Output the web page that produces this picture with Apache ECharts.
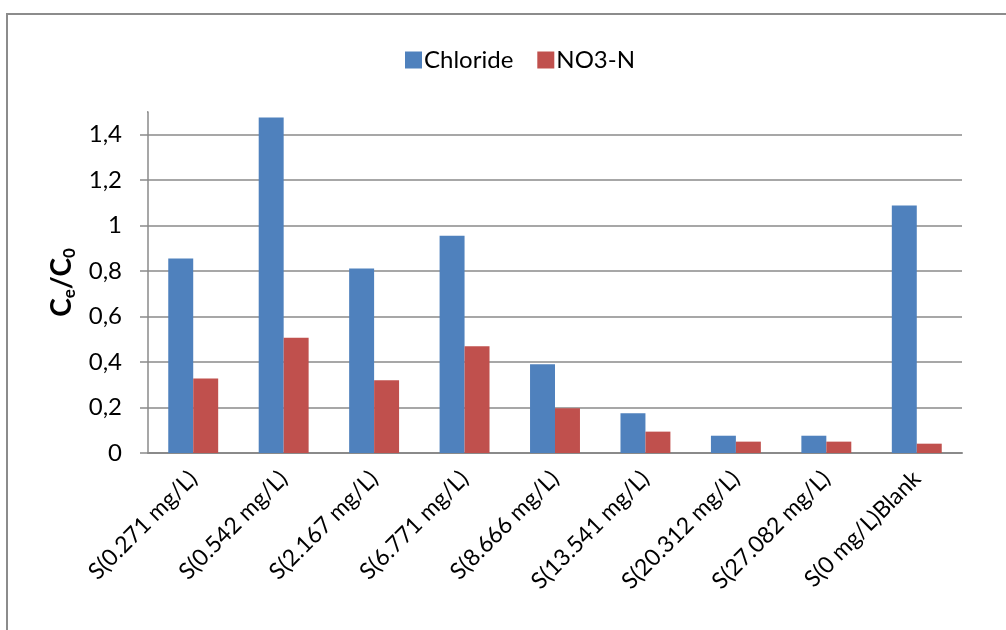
<!DOCTYPE html>
<html>
<head>
<meta charset="utf-8">
<script src="https://cdn.jsdelivr.net/npm/echarts@6/dist/echarts.min.js"></script>
<style>
  html, body { margin: 0; padding: 0; background: #fff; }
  #chart { width: 1006px; height: 630px; }
</style>
</head>
<body>
<div id="chart"></div>
<script>
// Sample categories (sorbent dose) and measured Ce/C0 ratios
const categories = [
  'S(0.271 mg/L)', 'S(0.542 mg/L)', 'S(2.167 mg/L)', 'S(6.771 mg/L)',
  'S(8.666 mg/L)', 'S(13.541 mg/L)', 'S(20.312 mg/L)', 'S(27.082 mg/L)',
  'S(0 mg/L)Blank'
];
const chloride = [0.856, 1.476, 0.812, 0.956, 0.39, 0.175, 0.076, 0.076, 1.089];
const no3n     = [0.328, 0.507, 0.320, 0.470, 0.197, 0.094, 0.050, 0.050, 0.041];
const seriesNames = ['Chloride', 'NO3-N'];

const FONT = 'Lato, "Liberation Sans", sans-serif';
const GRID_GREY = '#8a8a8a';

// Gridlines at every 0.2 step; the line at the axis top stays hidden
const gridColors = [];
for (let v = 0; v <= 1.4 + 1e-9; v += 0.2) gridColors.push(GRID_GREY);
gridColors.push('rgba(0,0,0,0)');

const chart = echarts.init(document.getElementById('chart'), null, { renderer: 'canvas' });

chart.setOption({
  animation: false,
  backgroundColor: '#ffffff',
  textStyle: { fontFamily: FONT },
  color: ['#4F81BD', '#C0504D'],
  graphic: [
    {
      // chart frame
      type: 'rect',
      z: -10,
      shape: { x: 7, y: 14, width: 1100, height: 700 },
      style: { fill: 'none', stroke: '#8c8c8c', lineWidth: 2 }
    },
    {
      // no tick mark at the open top of the value axis
      type: 'rect',
      z: 100,
      shape: { x: 128, y: 107, width: 19, height: 10 },
      style: { fill: '#ffffff' }
    }
  ],
  legend: {
    data: seriesNames,
    left: 400,
    top: 43,
    itemWidth: 17,
    itemHeight: 17,
    itemGap: 24,
    icon: 'rect',
    textStyle: { fontSize: 24, color: '#000', fontFamily: FONT, padding: [0, 0, 0, -3] }
  },
  grid: { left: 148, right: 44, top: 112, bottom: 177, containLabel: false },
  xAxis: {
    type: 'category',
    data: categories,
    axisLine: { show: true, lineStyle: { color: GRID_GREY, width: 2 } },
    axisTick: { show: false },
    axisLabel: {
      rotate: 45,
      interval: 0,
      margin: 22,
      fontSize: 23,
      color: '#000',
      fontFamily: FONT
    },
    splitLine: { show: false }
  },
  yAxis: {
    type: 'value',
    min: 0,
    max: 1.5,
    interval: 0.2,
    name: '{m|C}{s|e}{m|/C}{s|0}',
    nameLocation: 'middle',
    nameRotate: 90,
    nameGap: 69,
    nameTextStyle: {
      rich: {
        m: { fontSize: 28, fontWeight: 'bold', color: '#000', fontFamily: FONT, lineHeight: 32, verticalAlign: 'middle' },
        s: { fontSize: 17, fontWeight: 'bold', color: '#000', fontFamily: FONT, lineHeight: 16, verticalAlign: 'bottom' }
      }
    },
    axisLine: { show: true, lineStyle: { color: GRID_GREY, width: 1.5 } },
    axisTick: { show: true, length: 8, lineStyle: { color: GRID_GREY, width: 1.5 } },
    axisLabel: {
      fontSize: 24,
      color: '#000',
      margin: 26,
      fontFamily: FONT,
      formatter: function (v) {
        if (v > 1.45) return '';
        return String(Math.round(v * 10) / 10).replace('.', ',');
      }
    },
    splitLine: { show: true, lineStyle: { color: gridColors, width: 1.5 } }
  },
  series: [
    {
      name: seriesNames[0],
      type: 'bar',
      data: chloride,
      barWidth: '27.6%',
      barGap: '0%',
      itemStyle: { color: '#4F81BD' }
    },
    {
      name: seriesNames[1],
      type: 'bar',
      data: no3n,
      barWidth: '27.6%',
      barGap: '0%',
      itemStyle: { color: '#C0504D' }
    }
  ]
});
</script>
</body>
</html>
